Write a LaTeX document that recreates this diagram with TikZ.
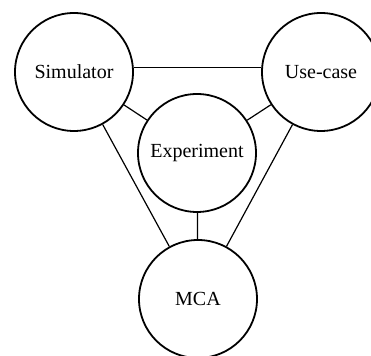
\documentclass[tikz,border=0pt]{standalone}
\usepackage{fontspec}
\setmainfont{Liberation Serif}

\begin{document}
\begin{tikzpicture}[x=0.5pt, y=-0.5pt,
    part/.style={draw, circle, line width=0.9pt, minimum size=59pt, inner sep=0pt},
    link/.style={line width=0.6pt}]
  \useasboundingbox (0,0) rectangle (371,356);

  % Components
  \node[part] (sim) at (74,72)  {Simulator};
  \node[part] (use) at (321,72) {Use-case};
  \node[part] (exp) at (197,153) {Experiment};
  \node[part] (mca) at (198,299) {MCA};

  % Links
  \draw[link] (sim.4) -- (use.176);
  \draw[link] (sim) -- (exp);
  \draw[link] (use) -- (exp);
  \draw[link] (sim) -- (mca);
  \draw[link] (use) -- (mca);
  \draw[link] (exp) -- (mca);
\end{tikzpicture}
\end{document}
